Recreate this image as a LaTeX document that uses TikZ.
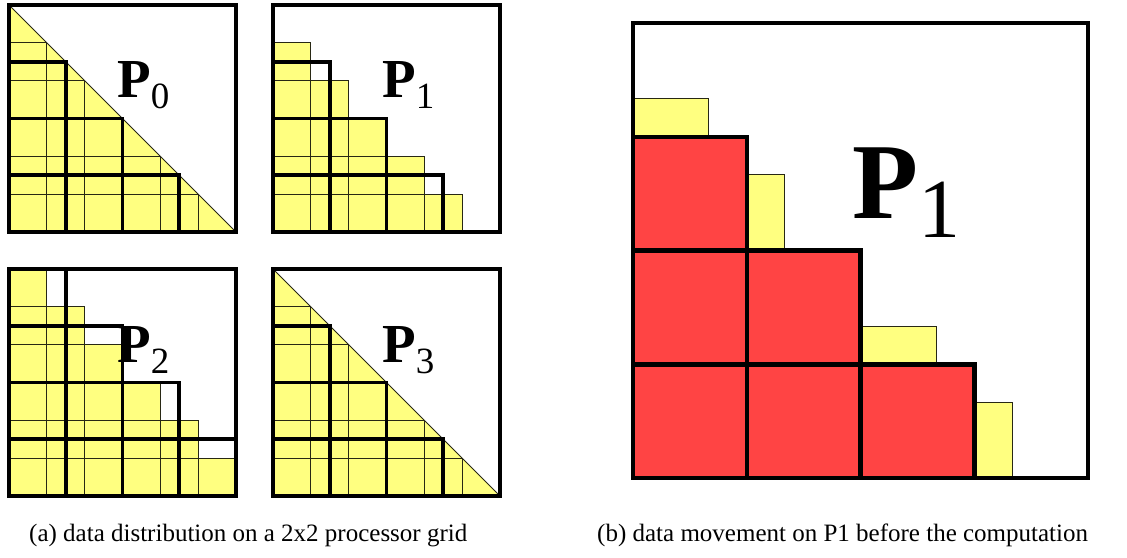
\documentclass[tikz,border=0pt]{standalone}
\usepackage{fontspec}
\setmainfont{Liberation Serif}
\definecolor{yfill}{RGB}{255,255,128}
\definecolor{rfill}{RGB}{255,68,68}
\definecolor{yline}{RGB}{40,40,20}
\tikzset{
  thinline/.style={draw=yline, line width=1pt},
  yblock/.style={fill=yfill, draw=yline, line width=1pt},
  thickbox/.style={draw=black, line width=3.8pt},
  frame/.style={draw=black, line width=3.5pt},
  rblock/.style={fill=rfill, draw=black, line width=4.5pt},
  lab/.style={anchor=base west, inner sep=0pt},
}
\newcommand{\TriPanel}{%
  \fill[yfill] (0,0)--(0,12)--(12,12)--cycle;
  \begin{scope}
    \clip (0,0)--(0,12)--(12,12)--cycle;
    \foreach \t in {2,4,8,10} {
      \draw[thinline] (\t,0)--(\t,12);
      \draw[thinline] (0,\t)--(12,\t);
    }
  \end{scope}
  \draw[thinline] (0,0)--(12,12);
}
\newcommand{\StrictThick}{%
  \foreach \i in {1,2,3} {
    \pgfmathtruncatemacro\jm{\i-1}
    \foreach \j in {0,...,\jm} {\draw[thickbox] (3*\j,3*\i) rectangle ++(3,3);}
  }
}
\begin{document}
\begin{tikzpicture}[x=1pt,y=-1pt]
\useasboundingbox (0,0) rectangle (1127,557);
% ---- P0 ----
\begin{scope}[xshift=9pt,yshift=-5pt,x=18.917pt,y=-18.917pt]
  \TriPanel
  \StrictThick
  \draw[frame] (0,0) rectangle (12,12);
\end{scope}
% ---- P1 ----
\begin{scope}[xshift=273pt,yshift=-5pt,x=18.917pt,y=-18.917pt]
  \foreach \i in {1,...,5} {
    \pgfmathtruncatemacro\jm{\i-1}
    \foreach \j in {0,...,\jm} {\draw[yblock] (2*\j,2*\i) rectangle ++(2,2);}
  }
  \StrictThick
  \draw[frame] (0,0) rectangle (12,12);
\end{scope}
% ---- P2 ----
\begin{scope}[xshift=9pt,yshift=-269pt,x=18.917pt,y=-18.917pt]
  \foreach \i in {0,...,5} {
    \foreach \j in {0,...,\i} {\draw[yblock] (2*\j,2*\i) rectangle ++(2,2);}
  }
  \foreach \i in {0,1,2,3} {
    \foreach \j in {0,...,\i} {\draw[thickbox] (3*\j,3*\i) rectangle ++(3,3);}
  }
  \draw[frame] (0,0) rectangle (12,12);
\end{scope}
% ---- P3 ----
\begin{scope}[xshift=273pt,yshift=-269pt,x=18.917pt,y=-18.917pt]
  \TriPanel
  \StrictThick
  \draw[frame] (0,0) rectangle (12,12);
\end{scope}
% ---- big P1 ----
\begin{scope}[xshift=633pt,yshift=-23pt,x=37.917pt,y=-37.917pt]
  \foreach \i in {1,...,5} {
    \pgfmathtruncatemacro\jm{\i-1}
    \foreach \j in {0,...,\jm} {\draw[yblock] (2*\j,2*\i) rectangle ++(2,2);}
  }
  \foreach \i in {1,2,3} {
    \pgfmathtruncatemacro\jm{\i-1}
    \foreach \j in {0,...,\jm} {\draw[rblock] (3*\j,3*\i) rectangle ++(3,3);}
  }
  \draw[frame,line width=4pt] (0,0) rectangle (12,12);
\end{scope}
% ---- labels ----
\node[lab] (l0) at (117,97) {\fontsize{55}{55}\selectfont\textbf{P}\raisebox{-11pt}{\fontsize{37}{37}\selectfont 0}};
\node[lab] (l1) at (382,97) {\fontsize{55}{55}\selectfont\textbf{P}\raisebox{-11pt}{\fontsize{37}{37}\selectfont 1}};
\node[lab] (l2) at (117,362) {\fontsize{55}{55}\selectfont\textbf{P}\raisebox{-11pt}{\fontsize{37}{37}\selectfont 2}};
\node[lab] (l3) at (382,362) {\fontsize{55}{55}\selectfont\textbf{P}\raisebox{-11pt}{\fontsize{37}{37}\selectfont 3}};
\node[lab] (lb) at (852,218) {\fontsize{108}{108}\selectfont\textbf{P}\raisebox{-19pt}{\fontsize{84}{84}\selectfont 1}};
% ---- captions ----
\node[lab] (capa) at (29,541) {\fontsize{25}{25}\selectfont (a) data distribution on a 2x2 processor grid};
\node[lab] (capb) at (597,541) {\fontsize{25}{25}\selectfont (b) data movement on P1 before the computation};
\end{tikzpicture}
\end{document}
